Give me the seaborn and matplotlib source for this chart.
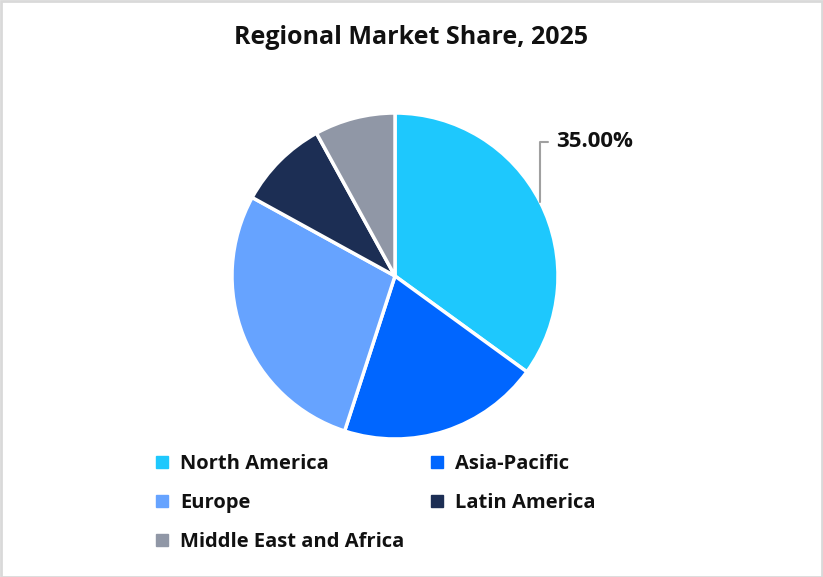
import numpy as np
import matplotlib
matplotlib.use("Agg")
import matplotlib.pyplot as plt
import seaborn as sns
from matplotlib.patches import Rectangle
from matplotlib.lines import Line2D

regions = ["North America", "Asia-Pacific", "Europe", "Latin America", "Middle East and Africa"]
shares = [35, 20, 28, 9, 8]
colors = ["#1EC8FD", "#0066FF", "#66A3FF", "#1C2E54", "#9097A6"]
title = "Regional Market Share, 2025"
shown_label = "35.00%"

sns.set_theme(style="white")
plt.rcParams['font.family'] = ['Open Sans', 'DejaVu Sans']
palette = sns.color_palette(colors)

W, H = 823, 577
fig = plt.figure(figsize=(W / 100, H / 100), dpi=100)
fig.patch.set_facecolor("white")

cx, cy, r = 395, 276, 163
ax = fig.add_axes([(cx - r) / W, (H - cy - r) / H, 2 * r / W, 2 * r / H])
wedges, _ = ax.pie(shares, colors=palette, startangle=90, counterclock=False,
                   radius=1, wedgeprops=dict(edgecolor="white", linewidth=2.5))
ax.set_xlim(-1, 1)
ax.set_ylim(-1, 1)
ax.axis("off")

# label for first slice
w0 = wedges[0]
mid = np.deg2rad((w0.theta1 + w0.theta2) / 2)
px, py = np.cos(mid), np.sin(mid)
ax.annotate(shown_label, xy=(px, py), xytext=(0.99, 0.825),
            ha="left", va="center", fontsize=16, fontweight="bold", color="#111111",
            arrowprops=dict(arrowstyle="-", color="#A0A0A0", lw=1.5,
                            connectionstyle="angle,angleA=0,angleB=90,rad=0",
                            shrinkA=4, shrinkB=0),
            annotation_clip=False)

fig.text(411 / W, 1 - 37 / H, title, ha="center", va="center",
         fontsize=18, fontweight="bold", color="#111111")

handles = [Line2D([], [], marker="s", linestyle="none", markersize=8.6,
                  markerfacecolor=c, markeredgecolor=c) for c in palette]
# row-wise ordering for a 2-column legend
order = [0, 2, 4, 1, 3]
leg = fig.legend([handles[i] for i in order], [regions[i] for i in order],
                 ncol=2, loc="upper left",
                 bbox_to_anchor=(138 / W, 1 - 436 / H), frameon=False,
                 prop=dict(size=14.5, weight="bold"), handlelength=0.6,
                 handletextpad=0.6, columnspacing=1.3, labelspacing=0.93)
for t in leg.get_texts():
    t.set_color("#111111")

fig.add_artist(Rectangle((0.5 / W, 0.5 / H), 1 - 1.5 / W, 1 - 1.5 / H,
                         transform=fig.transFigure, fill=False,
                         edgecolor="#D9D9D9", linewidth=2))

fig.savefig("out.png", dpi=100, facecolor="white")
